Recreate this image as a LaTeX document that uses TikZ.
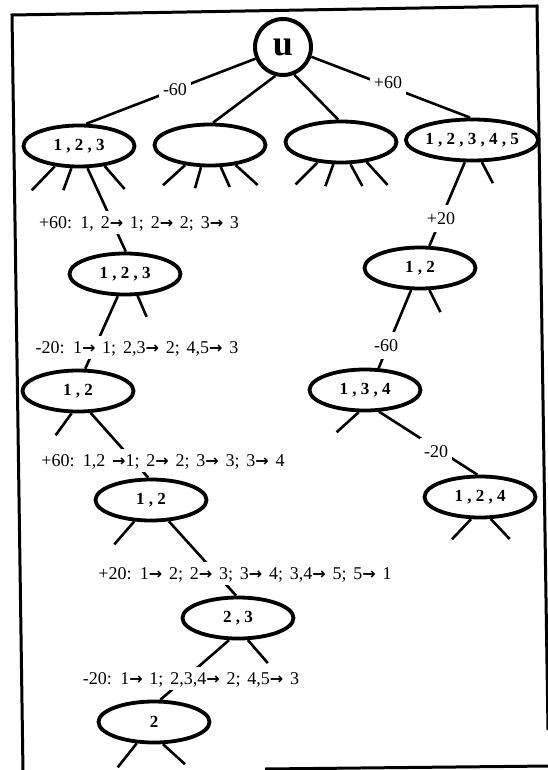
\documentclass[tikz,border=0pt]{standalone}
\usepackage{fontspec}
\setmainfont{Liberation Serif}
\newfontfamily\arrowfont{DejaVu Sans}
\newcommand{\toarr}{{\arrowfont\bfseries\fontsize{16}{16}\selectfont\char"2192}}
\newcommand{\maplabelfont}{\fontsize{18}{20}\selectfont\spaceskip=6.8pt plus 1pt minus 1pt\relax}
\usetikzlibrary{shapes.geometric}
\begin{document}
\begin{tikzpicture}[x=1pt,y=-1pt,
  every node/.style={inner sep=0pt},
  setnode/.style={draw, ellipse, line width=3.8pt, minimum width=111pt,
    minimum height=41pt, font=\fontsize{17}{19}\selectfont\bfseries},
  rootnode/.style={draw, circle, line width=4pt, minimum size=56pt,
    font=\fontsize{36}{40}\selectfont\bfseries},
  link/.style={line width=2.6pt},
  frameline/.style={line width=3pt},
  maplabel/.style={fill=white, font=\maplabelfont,
    inner xsep=2pt, inner ysep=5pt, text height=12.5pt, text depth=0.5pt},
  steplabel/.style={maplabel, inner xsep=4pt, inner ysep=7pt}]
\useasboundingbox (0,0) rectangle (548,770);

% frame
\draw[frameline] (23,772) -- (12,15) -- (537,6) -- (548,730);
\draw[frameline] (265,769) -- (550,766);

% nodes
\node[rootnode] (root) at (283,47) {u};
\node[setnode] (A1) at (79,146) {1 , 2 , 3};
\node[setnode] (A2) at (210,145) {};
\node[setnode] (A3) at (341,142) {};
\node[setnode] (A4) at (472,140) {1 , 2 , 3 , 4 , 5};
\node[setnode] (B1) at (125,274) {1 , 2 , 3};
\node[setnode] (C1) at (78,391) {1 , 2};
\node[setnode] (D1) at (151,500) {1 , 2};
\node[setnode] (E1) at (238,618) {2 , 3};
\node[setnode] (F1) at (154,722) {2};
\node[setnode] (R1) at (420,268) {1 , 2};
\node[setnode] (R2) at (365,390) {1 , 3 , 4};
\node[setnode] (R3) at (480,497) {1 , 2 , 4};

% tree edges
\draw[link] (root.203) -- (A1.72);
\draw[link] (root.255) -- (A2.82);
\draw[link] (root.292) -- (A3.97);
\draw[link] (root.341) -- (A4.95);
\draw[link] (A1.291) -- (B1.88);
\draw[link] (B1.252) -- (C1.72);
\draw[link] (C1.300) -- (D1.97);
\draw[link] (D1.310) -- (E1.95);
\draw[link] (E1.248) -- (F1.74);
\draw[link] (A4.252) -- (R1.67);
\draw[link] (R1.248) -- (R2.58);
\draw[link] (R2.303) -- (R3.97);

% open branches
\draw[link] (A1.220) -- ++(-23,24);
\draw[link] (A1.251) -- ++(-8,22);
\draw[link] (A1.322) -- ++(20,23);
\draw[link] (A2.219) -- ++(-22,20);
\draw[link] (A2.248) -- ++(-6,21);
\draw[link] (A2.296) -- ++(9,20);
\draw[link] (A2.322) -- ++(22,20);
\draw[link] (A3.221) -- ++(-22,22);
\draw[link] (A3.251) -- ++(-8,22);
\draw[link] (A3.293) -- ++(12,22);
\draw[link] (A3.322) -- ++(21,23);
\draw[link] (A4.294) -- ++(11,21);
\draw[link] (B1.300) -- ++(9,21);
\draw[link] (C1.254) -- ++(-16,22);
\draw[link] (D1.232) -- ++(-20,23);
\draw[link] (E1.294) -- ++(20,23);
\draw[link] (F1.231) -- ++(-19,24);
\draw[link] (F1.292) -- ++(22,20);
\draw[link] (R1.293) -- ++(11,22);
\draw[link] (R2.254) -- ++(-22,20);
\draw[link] (R3.248) -- ++(-19,20);
\draw[link] (R3.296) -- ++(19,20);

% edge labels
\node[steplabel] (lm60) at (175,90) {-60};
\node[steplabel] (lp60) at (388,83) {+60};
\node[steplabel] (lp20) at (441,218) {+20};
\node[steplabel] (lm60b) at (386,345) {-60};
\node[steplabel] (lm20) at (436,451) {-20};
\node[maplabel] (L1) at (139,222) {+60: 1, 2\toarr\ 1; 2\toarr\ 2; 3\toarr\ 3};
\node[maplabel] (L2) at (137,347) {-20: 1\toarr\ 1; 2,3\toarr\ 2; 4,5\toarr\ 3};
\node[maplabel] (L3) at (163,460) {+60: 1,2 \toarr1; 2\toarr\ 2; 3\toarr\ 3; 3\toarr\ 4};
\node[maplabel] (L4) at (245,573) {+20: 1\toarr\ 2; 2\toarr\ 3; 3\toarr\ 4; 3,4\toarr\ 5; 5\toarr\ 1};
\node[maplabel] (L5) at (191,678) {-20: 1\toarr\ 1; 2,3,4\toarr\ 2; 4,5\toarr\ 3};
\end{tikzpicture}
\end{document}
